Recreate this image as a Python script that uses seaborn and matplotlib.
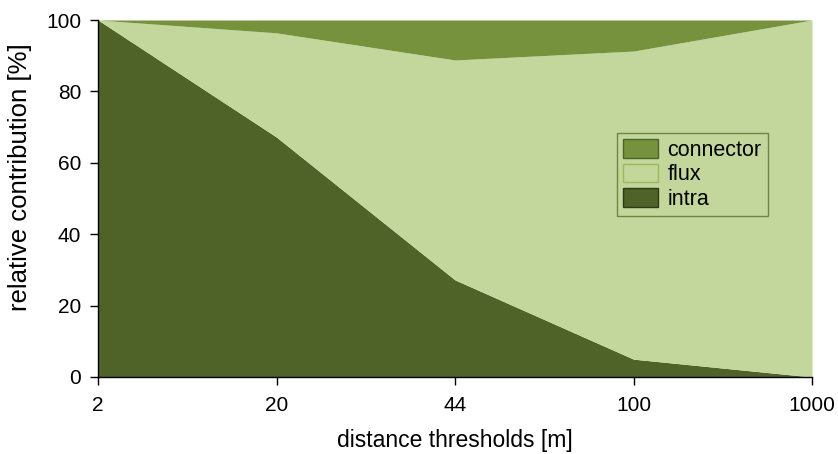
import numpy as np
import matplotlib
matplotlib.use("Agg")
import matplotlib.pyplot as plt
import seaborn as sns
from matplotlib.patches import Patch

# --- Data ---
thresholds = ["2", "20", "44", "100", "1000"]
intra = [100, 67.2, 27.2, 5.0, 0]
flux = [0, 29.2, 61.6, 86.3, 100]
connector = [0, 3.6, 11.2, 8.7, 0]

colors = {"intra": "#4F6228", "flux": "#C3D69B", "connector": "#76923C"}

# --- Style ---
sns.set_style("ticks")
plt.rcParams["font.family"] = ["Liberation Sans", "DejaVu Sans"]
for key in ["text.color", "axes.labelcolor", "xtick.color", "ytick.color"]:
    plt.rcParams[key] = "black"
plt.rcParams["xtick.major.size"] = 6
plt.rcParams["ytick.major.size"] = 6

fig = plt.figure(figsize=(8.38, 4.54), dpi=100)
ax = fig.add_axes([98 / 838, 1 - 377 / 454, 714 / 838, 357 / 454])

x = np.arange(len(thresholds))
ax.stackplot(x, intra, flux, connector,
             colors=[colors["intra"], colors["flux"], colors["connector"]],
             linewidth=0)

ax.set_xlim(0, len(thresholds) - 1)
ax.set_ylim(0, 100)
ax.set_xticks(x)
ax.set_xticklabels(thresholds)
ax.set_yticks(range(0, 101, 20))
ax.tick_params(axis="x", labelsize=15, width=1, pad=8)
ax.tick_params(axis="y", labelsize=15, width=1, pad=6)
ax.set_xlabel("distance thresholds [m]", fontsize=16.5, labelpad=10)
ax.set_ylabel("relative contribution [%]", fontsize=18.5)
ax.yaxis.set_label_coords(-0.092, 0.56)
sns.despine(ax=ax)
for s in ["left", "bottom"]:
    ax.spines[s].set_color("black")
    ax.spines[s].set_linewidth(1)

handles = [
    Patch(facecolor=colors["connector"], edgecolor="#4F6228", label="connector"),
    Patch(facecolor=colors["flux"], edgecolor="#9BBB59", label="flux"),
    Patch(facecolor=colors["intra"], edgecolor="#2F3B18", label="intra"),
]
leg = ax.legend(handles=handles, loc="upper left",
                bbox_to_anchor=(617 / 838, 1 - 133 / 454),
                bbox_transform=fig.transFigure, borderaxespad=0,
                fontsize=15.5, frameon=True, fancybox=False,
                handlelength=1.6, handleheight=0.95, labelspacing=0.12,
                borderpad=0.3, handletextpad=0.45)
leg.get_frame().set_facecolor("none")
leg.get_frame().set_edgecolor("#5A7030")
leg.get_frame().set_linewidth(1)

plt.savefig("out.png", dpi=100)
plt.close()
